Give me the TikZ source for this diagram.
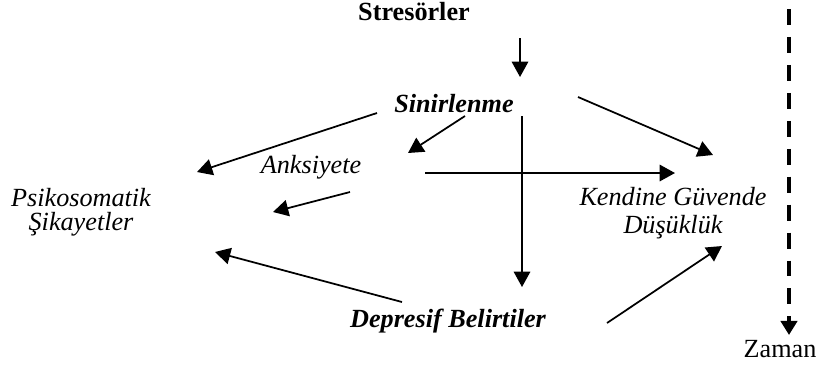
\documentclass[tikz,border=0pt]{standalone}
\usepackage{fontspec}
\setmainfont{Liberation Serif}
\usetikzlibrary{arrows.meta}

\begin{document}
\begin{tikzpicture}[x=0.458pt, y=-0.458pt]
  \tikzstyle{lbl}=[inner sep=0pt, font=\fontsize{12}{14}\selectfont]
  \tikzstyle{cause}=[lbl, font=\fontsize{12}{14}\selectfont\bfseries\itshape]
  \tikzstyle{effect}=[lbl, font=\fontsize{12}{14}\selectfont\itshape, align=center]
  \tikzstyle{link}=[line width=0.8pt, -{Triangle[length=7pt, width=7.5pt]}]
  \tikzstyle{timeline}=[line width=2pt, dash pattern=on 7.3pt off 5.5pt,
  -{Triangle[length=6.5pt, width=7.5pt]}]

  \useasboundingbox (0,0) rectangle (817,367);

  \node (stres) at (414,20) [lbl, anchor=base, font=\fontsize{12}{14}\selectfont\bfseries] {Stresörler};
  \node (sinir) at (454,112) [cause, anchor=base] {Sinirlenme};
  \node (anks) at (311,173) [effect, anchor=base] {Anksiyete};
  \node (psiko) at (81,212) [effect, font=\fontsize{12}{11}\selectfont\itshape] {Psikosomatik\\ Şikayetler};
  \node (guven) at (673,213) [effect, font=\fontsize{12}{12.5}\selectfont\itshape] {Kendine Güvende\\ Düşüklük};
  \node (depr) at (448,327) [cause, anchor=base] {Depresif Belirtiler};
  \node (zaman) at (780,357) [lbl, anchor=base] {Zaman};

  % free ends of the arrows
  \coordinate (stres-out) at (520,38);
  \coordinate (sinir-in) at (520,77);
  \coordinate (sinir-psiko) at (377,113);
  \coordinate (psiko-top) at (197,172);
  \coordinate (sinir-anks) at (465,116);
  \coordinate (anks-top) at (408,153);
  \coordinate (sinir-guven) at (578,97);
  \coordinate (guven-top) at (713,155);
  \coordinate (sinir-down) at (522,116);
  \coordinate (depr-in) at (522,287);
  \coordinate (anks-out) at (425,173);
  \coordinate (guven-left) at (675,173);
  \coordinate (anks-psiko) at (350,192);
  \coordinate (psiko-right) at (273,212);
  \coordinate (depr-psiko) at (402,302);
  \coordinate (psiko-low) at (215,252);
  \coordinate (depr-guven) at (607,323);
  \coordinate (guven-low) at (722,246);
  \coordinate (time-start) at (789,9);
  \coordinate (time-end) at (789,335);

  \draw[link] (stres-out) -- (sinir-in);
  \draw[link] (sinir-psiko) -- (psiko-top);
  \draw[link] (sinir-anks) -- (anks-top);
  \draw[link] (sinir-guven) -- (guven-top);
  \draw[link] (sinir-down) -- (depr-in);
  \draw[link] (anks-out) -- (guven-left);
  \draw[link] (anks-psiko) -- (psiko-right);
  \draw[link] (depr-psiko) -- (psiko-low);
  \draw[link] (depr-guven) -- (guven-low);

  \draw[timeline] (time-start) -- (time-end);

\end{tikzpicture}
\end{document}
